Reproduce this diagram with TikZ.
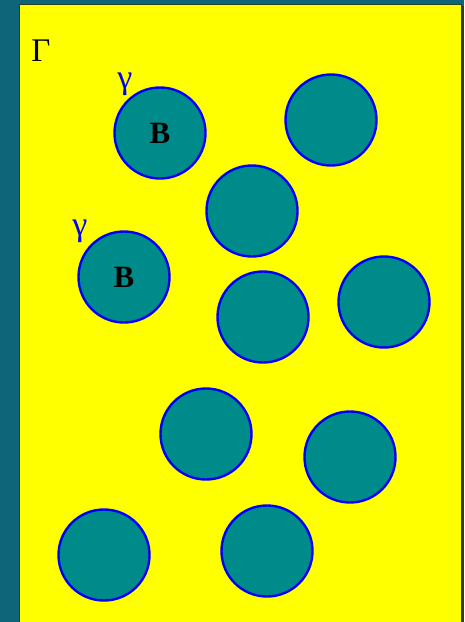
\documentclass[tikz,border=0pt]{standalone}
\usepackage{fontspec}
\setmainfont{Liberation Serif}
\definecolor{bgteal}{RGB}{14,100,120}
\definecolor{ballteal}{RGB}{0,139,139}
\definecolor{edgeblue}{RGB}{0,0,255}
\definecolor{frameedge}{RGB}{50,60,30}
\definecolor{pureyellow}{RGB}{255,255,0}
\begin{document}
\begin{tikzpicture}[x=1pt,y=-1pt,
  ball/.style={circle,fill=ballteal,draw=edgeblue,line width=2.4pt,minimum size=91pt,inner sep=0pt,
    font=\fontsize{31}{31}\selectfont\bfseries},
  gam/.style={text=edgeblue,font=\fontsize{34}{34}\selectfont,inner sep=0pt},
  bigg/.style={text=black,font=\fontsize{33}{33}\selectfont,inner sep=0pt}]
\useasboundingbox (0,0) rectangle (464,622);
\fill[bgteal] (0,0) rectangle (464,622);
\fill[frameedge] (21,6) rectangle (463.5,625);
\filldraw[fill=pureyellow,draw=frameedge,line width=1pt] (19.5,4.5) rectangle (461.5,625);
\node[bigg] (G) at (41,51) {Γ};
\node[ball] (b1) at (160,133) {B};
\node[ball] (b2) at (331,120) {};
\node[ball] (b3) at (252,211) {};
\node[ball] (b4) at (124,277) {B};
\node[ball] (b5) at (263,317) {};
\node[ball] (b6) at (384,302) {};
\node[ball] (b7) at (206,434) {};
\node[ball] (b8) at (350,457) {};
\node[ball] (b9) at (104,555) {};
\node[ball] (b10) at (267,551) {};
\node[gam] (g1) at (125,84) {γ};
\node[gam] (g2) at (80,231) {γ};
\end{tikzpicture}
\end{document}
